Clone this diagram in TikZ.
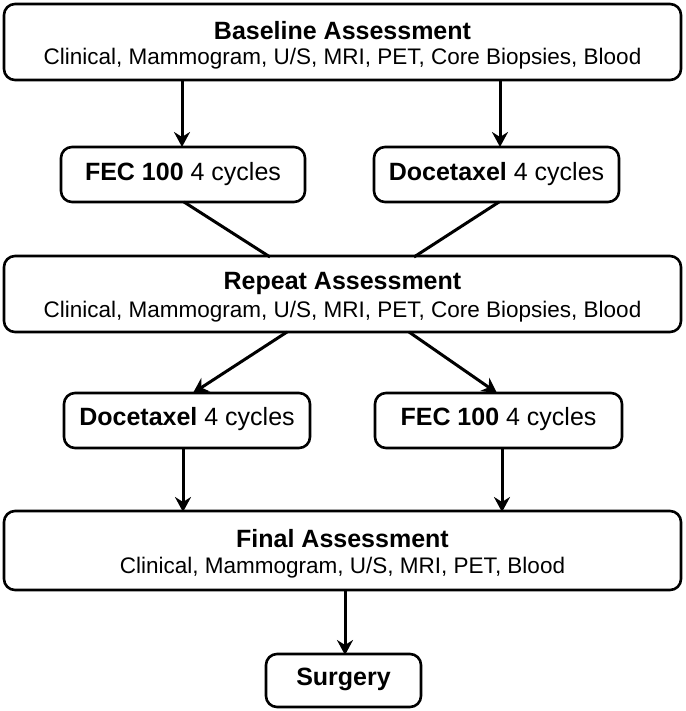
\documentclass[tikz,border=0pt]{standalone}
\usepackage{fontspec}
\setmainfont{Liberation Sans}
\usetikzlibrary{arrows.meta}
\begin{document}
\begin{tikzpicture}[x=1pt,y=-1pt,
  box/.style={draw=black,line width=2.6pt,rounded corners=11pt,fill=white},
  lbl/.style={inner sep=0pt,font=\fontsize{25}{28}\selectfont},
  sub/.style={inner sep=0pt,font=\fontsize{22.5}{26}\selectfont},
  conn/.style={line width=3pt},
  arr/.style={conn,-{Stealth[length=15pt,width=16pt,inset=5pt]}}]
\useasboundingbox[fill=white] (0,0) rectangle (685,711);
% boxes
\draw[box] (4,4) rectangle (681,80);
\node[lbl] (base) at (342.5,31) {\textbf{Baseline Assessment}};
\node[sub] (basesub) at (342.5,59) {Clinical, Mammogram, U/S, MRI, PET, Core Biopsies, Blood};
\coordinate (baseA) at (182,80);
\coordinate (baseB) at (500,80);

\draw[box] (61,147) rectangle (305,202);
\node[lbl] (fec1) at (183,174) {\textbf{FEC 100} 4 cycles};
\draw[box] (374,147) rectangle (619,202);
\node[lbl] (doc1) at (496.5,174) {\textbf{Docetaxel} 4 cycles};

\draw[box] (4,256) rectangle (681,332);
\node[lbl] (rep) at (342.5,283) {\textbf{Repeat Assessment}};
\node[sub] (repsub) at (342.5,312) {Clinical, Mammogram, U/S, MRI, PET, Core Biopsies, Blood};

\draw[box] (64,393) rectangle (310,448);
\node[lbl] (doc2) at (187,419) {\textbf{Docetaxel} 4 cycles};
\draw[box] (375,393) rectangle (622,448);
\node[lbl] (fec2) at (498.5,419) {\textbf{FEC 100} 4 cycles};

\draw[box] (4,511) rectangle (681,590);
\node[lbl] (fin) at (342.5,539) {\textbf{Final Assessment}};
\node[sub] (finsub) at (342.5,568) {Clinical, Mammogram, U/S, MRI, PET, Blood};

\draw[box] (266,654) rectangle (421,707);
\node[lbl] (surg) at (343.5,679) {\textbf{Surgery}};

% connectors
\coordinate (fec1b) at (184,202);
\coordinate (doc1b) at (499,202);
\coordinate (repL) at (270,257);
\coordinate (repR) at (414,257);
\coordinate (repbL) at (287,332);
\coordinate (repbR) at (409,332);
\coordinate (doc2t) at (193,393);
\coordinate (fec2t) at (497,393);
\coordinate (doc2b) at (183,448);
\coordinate (fec2b) at (502,448);
\coordinate (finL) at (183,512);
\coordinate (finR) at (502,512);
\coordinate (finb) at (345,590);
\coordinate (surgt) at (345,655);
\coordinate (fec1t) at (182,147);
\coordinate (doc1t) at (500,147);

\draw[arr] (baseA) -- (fec1t);
\draw[arr] (baseB) -- (doc1t);
\draw[conn] (fec1b) -- (repL);
\draw[conn] (doc1b) -- (repR);
\draw[arr] (repbL) -- (doc2t);
\draw[arr] (repbR) -- (fec2t);
\draw[arr] (doc2b) -- (finL);
\draw[arr] (fec2b) -- (finR);
\draw[arr] (finb) -- (surgt);
\end{tikzpicture}
\end{document}
